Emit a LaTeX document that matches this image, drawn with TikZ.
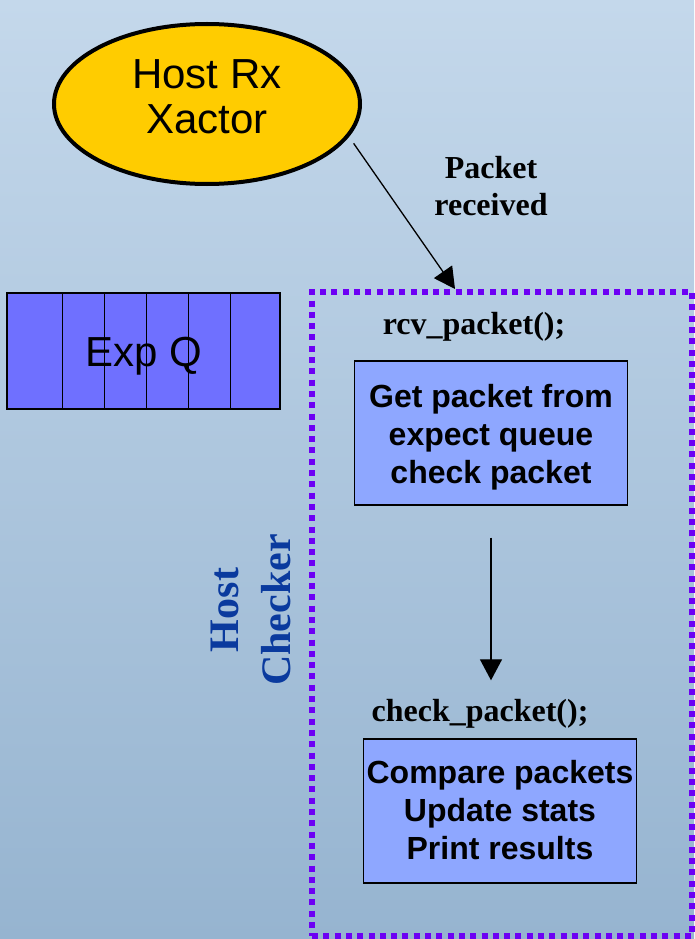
\documentclass[tikz,border=0pt]{standalone}
\usepackage{fontspec}
\setmainfont{Liberation Serif}
\setsansfont{Liberation Sans}
\usepackage{xcolor}
\usepackage{tikz}
\usetikzlibrary{positioning,arrows,arrows.meta,shapes.geometric}
\definecolor{gold}{HTML}{FFCC00}
\definecolor{qblue}{HTML}{6F70FF}
\definecolor{boxblue}{HTML}{8EA7FF}
\definecolor{dotviolet}{HTML}{6C00F4}
\definecolor{darkblue}{HTML}{0A3A9E}
\definecolor{bgtop}{HTML}{C4D8EB}
\definecolor{bgmid}{HTML}{A0BDD8}
\definecolor{bgbot}{HTML}{96B4D0}

\begin{document}
\begin{tikzpicture}[x=1pt,y=-1pt,every node/.style={inner sep=0pt},
    code/.style={font=\bfseries\fontsize{32}{37}\selectfont,align=center},
    task/.style={draw,line width=1.2pt,fill=boxblue,minimum width=273pt,minimum height=144pt},
    tasktext/.style={align=center,font=\sffamily\bfseries\fontsize{32}{38}\selectfont},
    big/.style={font=\sffamily\fontsize{42}{45}\selectfont,align=center},
    arr/.style={line width=1.3pt,-{Triangle[width=22pt,length=21pt]}}]
    \useasboundingbox (0,0) rectangle (694,939);
    \shade[top color=bgtop,middle color=bgmid,bottom color=bgbot] (0,0) rectangle (694,939);
    % checker box
    \node[draw=dotviolet,line width=6pt,dash pattern=on 6pt off 5.3pt,
      minimum width=380pt,minimum height=644pt] (C) at (502,614) {};
    \node[rotate=90,text=darkblue,align=center,font=\bfseries\fontsize{42}{52}\selectfont]
      (HC) at (251,610) {Host\\Checker};
    % transactor
    \node[draw,ellipse,line width=4pt,fill=gold,minimum width=306pt,minimum height=160pt] (Rx) at (207,104) {};
    \node[big] (RxT) at ([yshift=7.5pt]Rx) {Host Rx\\Xactor};
    \node[code] (pkt) at (491,185.6) {Packet\\received};
    \draw[arr,shorten <=8pt] (Rx.-13) -- ([xshift=-47pt]C.north);
    % expect queue
    \node[draw,line width=1.2pt,fill=qblue,minimum width=273pt,minimum height=116pt] (ExpQ) at (143.5,351) {};
    \foreach \i in {56,98,140,182,224}
      \draw[line width=1.2pt] ([xshift=\i pt]ExpQ.north west) -- ([xshift=\i pt]ExpQ.south west);
    \node[big] (EQ) at (143.5,356.5) {Exp Q};
    % tasks
    \node[code] (rcv) at (474,327) {rcv\_packet();};
    \node[task] (Get) at (491,433) {};
    \node[tasktext] (GetT) at ([yshift=-4.5pt]Get) {Get packet from\\ expect queue\\check packet};
    \node[code] (chk) at (480,714) {check\_packet();};
    \node[task] (Cmp) at (500,811) {};
    \node[tasktext] (CmpT) at ([yshift=0.5pt]Cmp) {Compare packets\\Update stats\\Print results};
    \draw[arr,shorten <=32pt,shorten >=19pt] (Get.south) -- (Get.south |- chk.north);
\end{tikzpicture}
\end{document}
